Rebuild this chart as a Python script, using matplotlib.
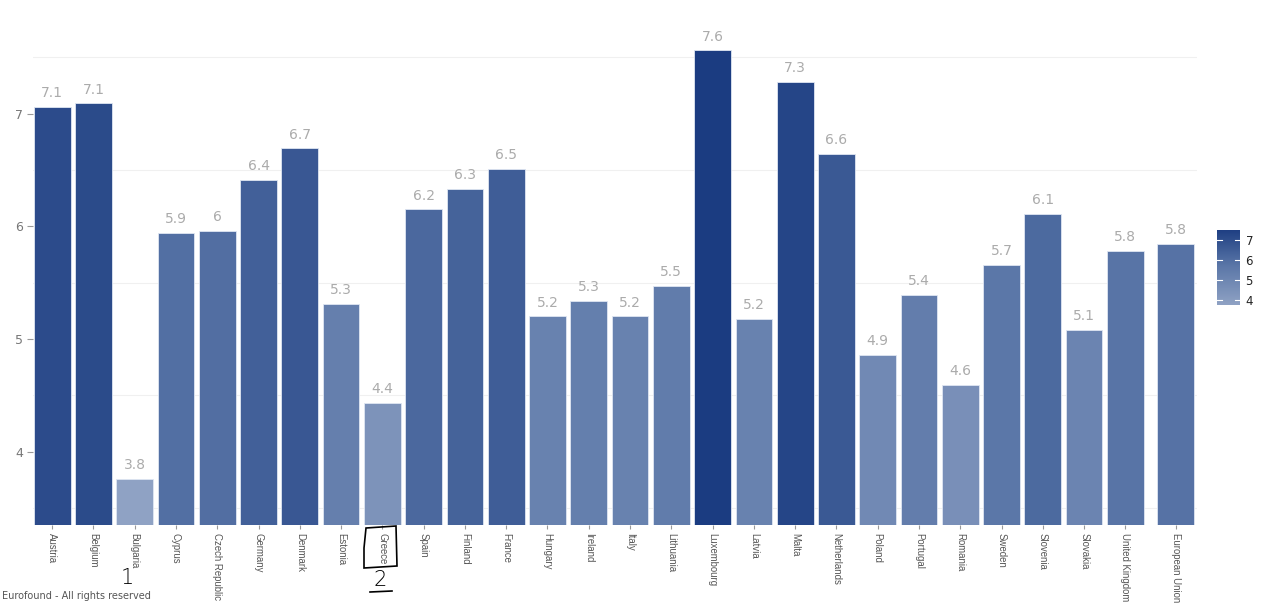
import matplotlib.pyplot as plt
import numpy as np
from matplotlib.colors import LinearSegmentedColormap, Normalize
from matplotlib.patches import Polygon
from matplotlib.lines import Line2D

# Eurofound indicator by country
countries = ['Austria', 'Belgium', 'Bulgaria', 'Cyprus', 'Czech Republic', 'Germany',
             'Denmark', 'Estonia', 'Greece', 'Spain', 'Finland', 'France', 'Hungary',
             'Ireland', 'Italy', 'Lithuania', 'Luxembourg', 'Latvia', 'Malta',
             'Netherlands', 'Poland', 'Portugal', 'Romania', 'Sweden', 'Slovenia',
             'Slovakia', 'United Kingdom', 'European Union']
values = [7.06, 7.09, 3.76, 5.94, 5.96, 6.41, 6.69, 5.31, 4.43, 6.15, 6.33, 6.51,
          5.2, 5.34, 5.2, 5.47, 7.56, 5.18, 7.28, 6.64, 4.86, 5.39, 4.59, 5.66,
          6.11, 5.08, 5.78, 5.84]
cbar_ticks = [4, 5, 6, 7]

cmap = LinearSegmentedColormap.from_list('blues', ['#8fa2c4', '#5b77a8', '#1a3b80'])
norm = Normalize(vmin=3.75, vmax=7.6)

fig = plt.figure(figsize=(12.75, 6.04), dpi=100)
ax = fig.add_axes([0.026, 0.131, 0.913, 0.849])

x = np.arange(len(countries), dtype=float)
x[-1] += 0.22  # small gap before the EU average
colors = [cmap(norm(v)) for v in values]
ax.bar(x, np.array(values) - 3.35, bottom=3.35, width=0.89, color=colors,
       edgecolor='#dfe6f2', linewidth=0.6, zorder=2)

for xi, v in zip(x, values):
    ax.text(xi, v + 0.06, f"{round(v, 1):g}", ha='center', va='bottom',
            fontsize=10, color='#ababab', family='DejaVu Sans')

ax.set_ylim(3.35, 7.9)
ax.set_xlim(-0.46, 27.74)
ax.set_yticks(cbar_ticks)
ax.set_yticks(np.arange(3.5, 8, 1.0), minor=True)
ax.grid(axis='y', which='minor', color='#f0f0f0', linewidth=0.8, zorder=0)
ax.tick_params(axis='y', which='minor', length=0)
ax.tick_params(axis='y', which='major', length=4, color='#999999',
               labelcolor='#777777', labelsize=9, pad=3)
ax.set_xticks(x)
ax.set_xticklabels(countries, rotation=-90, fontsize=6.9, color='#555555',
                   family=['Liberation Sans', 'DejaVu Sans'])
ax.tick_params(axis='x', length=3, color='#999999', pad=3)
for s in ax.spines.values():
    s.set_visible(False)

# colour legend
cax = fig.add_axes([1217 / 1275, 1 - 305 / 604, 23 / 1275, 75 / 604])
grad = np.linspace(3.75, 7.5, 200).reshape(-1, 1)
cax.imshow(grad, aspect='auto', cmap=cmap, norm=norm, origin='lower',
           extent=[0, 1, 3.75, 7.5])
cax.set_xlim(0, 1)
cax.set_ylim(3.75, 7.5)
for t in cbar_ticks:
    cax.plot([0, 0.2], [t, t], color='white', lw=0.8)
    cax.plot([0.8, 1], [t, t], color='white', lw=0.8)
cax.set_xticks([])
cax.yaxis.tick_right()
cax.set_yticks(cbar_ticks)
cax.tick_params(axis='y', length=0, labelsize=8.5, labelcolor='#222222', pad=4)
for s in cax.spines.values():
    s.set_visible(False)

# hand-drawn marks
def px(xp, yp):
    return (xp / 1275, 1 - yp / 604)

box = [px(366, 528), px(396, 526), px(397, 566), px(364, 568), px(364, 548), px(366, 528)]
fig.add_artist(Polygon(box, closed=True, fill=False, edgecolor='black', lw=1.2,
                       transform=fig.transFigure))
fig.text(*px(127, 578), '1', fontsize=15, ha='center', va='center',
         family='DejaVu Sans', fontweight='light')
fig.text(*px(380, 580), '2', fontsize=15, ha='center', va='center',
         family='DejaVu Sans', fontweight='light')
fig.add_artist(Line2D([370 / 1275, 392 / 1275], [1 - 592 / 604, 1 - 591 / 604],
                      color='black', lw=1.2, transform=fig.transFigure))

fig.text(2 / 1275, 1 - 601 / 604, 'Eurofound - All rights reserved', fontsize=7,
         color='#555555', ha='left', va='bottom')

fig.savefig('out.png', dpi=100)
